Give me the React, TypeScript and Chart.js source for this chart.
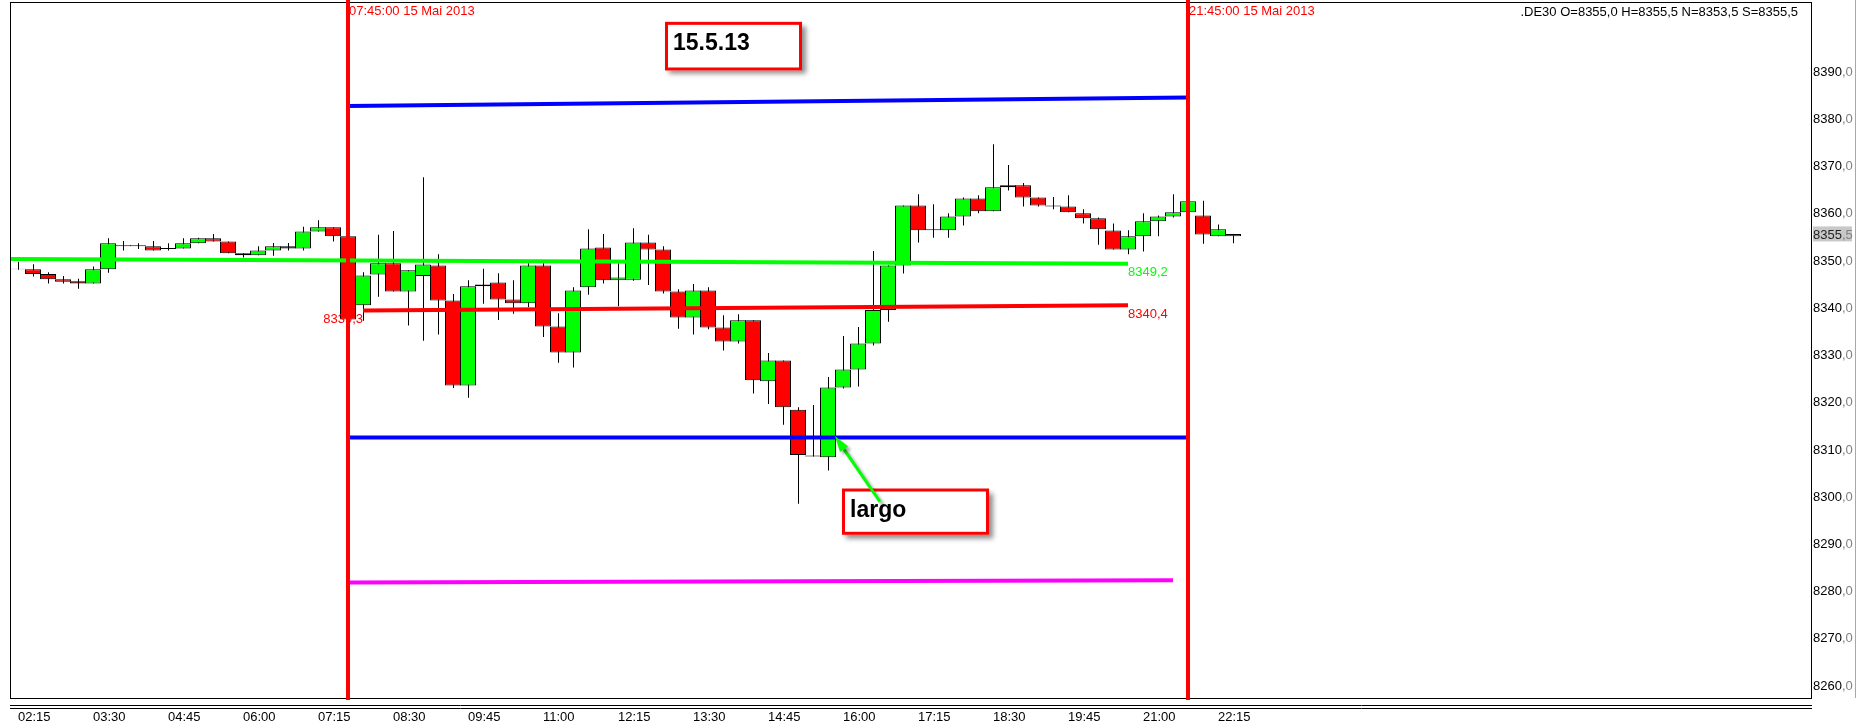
import React, { useEffect, useRef } from 'react';
import { Chart, registerables } from 'chart.js';

Chart.register(...registerables);

// ---- categories (15-minute bars, 15 Mai 2013) ----
const times = [
  '02:15', '02:30', '02:45', '03:00', '03:15', '03:30', '03:45', '04:00', '04:15', '04:30',
  '04:45', '05:00', '05:15', '05:30', '05:45', '06:00', '06:15', '06:30', '06:45', '07:00',
  '07:15', '07:30', '07:45', '08:00', '08:15', '08:30', '08:45', '09:00', '09:15', '09:30',
  '09:45', '10:00', '10:15', '10:30', '10:45', '11:00', '11:15', '11:30', '11:45', '12:00',
  '12:15', '12:30', '12:45', '13:00', '13:15', '13:30', '13:45', '14:00', '14:15', '14:30',
  '14:45', '15:00', '15:15', '15:30', '15:45', '16:00', '16:15', '16:30', '16:45', '17:00',
  '17:15', '17:30', '17:45', '18:00', '18:15', '18:30', '18:45', '19:00', '19:15', '19:30',
  '19:45', '20:00', '20:15', '20:30', '20:45', '21:00', '21:15', '21:30', '21:45', '22:00',
  '22:15', '22:30',
];

// ---- OHLC series ----
const opens = [
  8348.1, 8348.0, 8347.0, 8345.9, 8345.5, 8345.0, 8348.0, 8352.9, 8352.9, 8352.9,
  8352.3, 8352.4, 8353.5, 8354.6, 8353.9, 8351.4, 8351.0, 8352.0, 8352.9, 8352.4,
  8356.0, 8356.9, 8355.0, 8340.4, 8346.9, 8349.3, 8343.3, 8346.6, 8348.8, 8341.4,
  8323.4, 8344.4, 8345.2, 8341.6, 8340.8, 8348.8, 8335.9, 8330.4, 8344.2, 8352.6,
  8345.7, 8345.8, 8353.7, 8352.2, 8343.3, 8337.8, 8343.5, 8335.7, 8332.7, 8337.2,
  8324.3, 8328.7, 8318.3, 8308.6, 8308.2, 8323.0, 8326.8, 8332.3, 8339.4, 8348.8,
  8361.5, 8356.3, 8356.3, 8359.2, 8363.0, 8360.3, 8365.4, 8365.8, 8363.2, 8361.5,
  8361.3, 8359.9, 8358.8, 8356.2, 8352.2, 8355.0, 8358.2, 8359.2, 8360.1, 8359.4,
  8355.0, 8355.0,
];
const highs = [
  8349.6, 8349.1, 8347.4, 8346.6, 8346.0, 8348.6, 8354.6, 8354.0, 8353.5, 8354.0,
  8353.5, 8354.6, 8354.7, 8355.5, 8353.9, 8351.4, 8352.9, 8353.6, 8353.6, 8357.0,
  8358.4, 8356.9, 8355.0, 8347.4, 8355.3, 8356.1, 8347.8, 8367.5, 8351.2, 8342.8,
  8345.7, 8348.1, 8347.2, 8345.7, 8349.3, 8349.3, 8338.7, 8344.2, 8356.5, 8355.5,
  8349.3, 8356.7, 8355.3, 8352.9, 8343.8, 8344.9, 8344.2, 8338.3, 8338.5, 8337.2,
  8330.3, 8328.7, 8318.8, 8319.3, 8325.2, 8333.9, 8335.8, 8351.9, 8348.8, 8361.5,
  8363.9, 8361.8, 8359.9, 8363.2, 8363.7, 8374.5, 8370.1, 8366.3, 8363.2, 8363.3,
  8363.7, 8360.7, 8359.0, 8357.7, 8356.3, 8359.9, 8359.4, 8363.9, 8362.4, 8362.5,
  8357.5, 8355.5,
];
const lows = [
  8347.9, 8346.5, 8345.0, 8345.0, 8343.9, 8345.0, 8347.3, 8352.0, 8352.3, 8352.0,
  8352.0, 8352.4, 8353.5, 8353.9, 8351.4, 8350.5, 8351.0, 8350.9, 8352.0, 8352.0,
  8356.0, 8353.9, 8337.3, 8337.1, 8342.2, 8343.3, 8336.1, 8332.9, 8334.2, 8322.9,
  8320.8, 8340.7, 8337.3, 8338.6, 8340.0, 8333.7, 8328.2, 8327.2, 8342.6, 8345.0,
  8340.2, 8345.6, 8344.7, 8342.9, 8335.4, 8334.2, 8335.3, 8330.8, 8332.3, 8321.7,
  8319.5, 8315.1, 8298.4, 8308.4, 8305.4, 8322.8, 8323.2, 8331.9, 8336.9, 8347.1,
  8353.7, 8354.7, 8354.7, 8357.3, 8359.9, 8360.3, 8364.7, 8361.3, 8361.3, 8360.7,
  8360.1, 8357.7, 8353.2, 8352.2, 8351.2, 8351.8, 8355.0, 8359.0, 8360.1, 8353.4,
  8355.0, 8353.5,
];
const closes = [
  8348.0, 8347.0, 8345.9, 8345.4, 8345.0, 8348.0, 8353.5, 8353.1, 8353.1, 8352.0,
  8352.5, 8353.5, 8354.6, 8353.9, 8351.4, 8351.0, 8352.0, 8352.9, 8352.4, 8356.0,
  8356.9, 8355.0, 8337.4, 8346.7, 8349.3, 8343.3, 8347.8, 8349.0, 8341.4, 8323.4,
  8344.4, 8344.8, 8341.6, 8340.8, 8348.8, 8335.9, 8330.4, 8343.5, 8352.4, 8345.7,
  8346.3, 8353.7, 8352.2, 8343.3, 8337.8, 8343.5, 8335.7, 8332.7, 8337.2, 8324.5,
  8328.7, 8318.8, 8308.7, 8308.4, 8323.0, 8326.8, 8332.3, 8339.4, 8348.8, 8361.5,
  8356.3, 8356.5, 8359.2, 8363.0, 8360.3, 8365.4, 8365.8, 8363.2, 8361.5, 8361.3,
  8360.1, 8358.8, 8356.5, 8352.2, 8355.0, 8358.2, 8359.2, 8360.1, 8362.4, 8355.4,
  8356.5, 8355.5,
];

// ---- tick labels ----
const xTickLabels = ['02:15', '03:30', '04:45', '06:00', '07:15', '08:30', '09:45', '11:00', '12:15',
  '13:30', '14:45', '16:00', '17:15', '18:30', '19:45', '21:00', '22:15'];
const yTickValues = [8260, 8270, 8280, 8290, 8300, 8310, 8320, 8330, 8340, 8350, 8360, 8370, 8380, 8390];

// ---- session markers ----
const sessionTimes = ['07:45', '21:45'];
const sessionLabels = ['07:45:00 15 Mai 2013', '21:45:00 15 Mai 2013'];

// ---- level lines ----
const greenLineTimes = ['02:00', '20:45'];
const greenLineValues = [8350.2, 8349.2];
const redLineTimes = ['08:00', '20:45'];
const redLineValues = [8339.3, 8340.4];
const blueUpperTimes = ['07:45', '21:45'];
const blueUpperValues = [8382.6, 8384.4];
const blueLowerTimes = ['07:45', '21:45'];
const blueLowerValues = [8312.4, 8312.4];
const magentaTimes = ['07:45', '21:30'];
const magentaValues = [8281.7, 8282.2];

// ---- texts ----
const headerText = '.DE30 O=8355,0 H=8355,5 N=8353,5 S=8355,5';
const noteTexts = ['15.5.13', 'largo'];
const noteFrom = ['13:02', '15:59'];
const noteTo = ['15:19', '18:26'];
const noteTop = [8400.4, 8301.6];
const noteBottom = [8390.1, 8291.8];
const arrowFrom = { t: '16:37', v: 8298.8 };
const arrowTo = { t: '15:52', v: 8312.7 };

const toMin = (s: string) => {
  const [h, m] = s.split(':').map(Number);
  return h * 60 + m;
};
const pts = (ts: string[], vs: number[]) => ts.map((t, i) => ({ x: toMin(t), y: vs[i] }));
const fmt = (v: number) => {
  const s = v.toFixed(1).split('.');
  return [s[0], ',' + s[1]];
};

const FONT = '13px "Liberation Sans", Arial, sans-serif';
const BOLD = 'bold 23px "Liberation Sans", Arial, sans-serif';

const X_MIN = 127;
const X_MAX = 1928;

const overlayPlugin = {
  id: 'overlay',
  afterDatasetsDraw(chart: any) {
    const { ctx, chartArea: ca, scales } = chart;
    const xs = scales.x;
    const ys = scales.y;
    const px = (t: string) => xs.getPixelForValue(toMin(t));
    const py = (v: number) => ys.getPixelForValue(v);
    ctx.save();
    ctx.font = FONT;
    ctx.textBaseline = 'alphabetic';

    // level labels
    ctx.textAlign = 'left';
    ctx.fillStyle = '#00ff00';
    ctx.fillText(fmt(greenLineValues[1]).join(''), px(greenLineTimes[1]), py(greenLineValues[1]) + 12.5);
    ctx.fillStyle = '#ff0000';
    ctx.fillText(fmt(redLineValues[1]).join(''), px(redLineTimes[1]), py(redLineValues[1]) + 12.5);
    ctx.textAlign = 'right';
    ctx.fillText(fmt(redLineValues[0]).join(''), px(redLineTimes[0]), py(redLineValues[0]) + 12.5);

    // session labels
    ctx.textAlign = 'left';
    ctx.fillStyle = '#ff0000';
    sessionTimes.forEach((t, i) => ctx.fillText(sessionLabels[i], px(t) + 1, 15));

    // plot border
    ctx.strokeStyle = '#000';
    ctx.lineWidth = 1;
    ctx.strokeRect(ca.left + 0.5, ca.top + 0.5, ca.right - ca.left, ca.bottom - ca.top);

    // session vertical lines
    ctx.strokeStyle = '#ff0000';
    ctx.lineWidth = 4;
    sessionTimes.forEach((t) => {
      const x = px(t);
      ctx.beginPath();
      ctx.moveTo(x, 0);
      ctx.lineTo(x, ca.bottom + 2);
      ctx.stroke();
    });

    // x axis double line
    ctx.strokeStyle = '#000';
    ctx.lineWidth = 1;
    [ca.bottom + 7.5, ca.bottom + 10.5].forEach((y) => {
      ctx.beginPath();
      ctx.moveTo(ca.left, y);
      ctx.lineTo(ca.right + 1, y);
      ctx.stroke();
    });

    // x labels
    ctx.fillStyle = '#000';
    ctx.textAlign = 'left';
    xTickLabels.forEach((l) => ctx.fillText(l, px(l), ca.bottom + 23));

    // y labels
    const yLabelX = ca.right + 2;
    yTickValues.forEach((v) => {
      const [a, b] = fmt(v);
      const y = py(v) + 4.7;
      ctx.fillStyle = '#000';
      ctx.fillText(a, yLabelX, y);
      ctx.fillStyle = '#808080';
      ctx.fillText(b, yLabelX + ctx.measureText(a).width, y);
    });

    // last price box
    const last = closes[closes.length - 1];
    const ly = py(last);
    ctx.fillStyle = '#c8c8c8';
    ctx.fillRect(yLabelX, ly - 7.5, 39, 15);
    const [la, lb] = fmt(last);
    ctx.fillStyle = '#222';
    ctx.fillText(la, yLabelX, ly + 4.7);
    ctx.fillStyle = '#808080';
    ctx.fillText(lb, yLabelX + ctx.measureText(la).width, ly + 4.7);

    // header
    ctx.fillStyle = '#000';
    ctx.textAlign = 'right';
    ctx.fillText(headerText, ca.right - 13, 16);

    // right panel edge
    ctx.strokeStyle = '#a8a8a8';
    ctx.beginPath();
    ctx.moveTo(chart.width - 1.5, 0);
    ctx.lineTo(chart.width - 1.5, ca.bottom);
    ctx.stroke();

    // note boxes
    noteTexts.forEach((txt, i) => {
      const x0 = px(noteFrom[i]);
      const x1 = px(noteTo[i]);
      const y0 = py(noteTop[i]);
      const y1 = py(noteBottom[i]);
      ctx.save();
      ctx.shadowColor = 'rgba(0,0,0,0.45)';
      ctx.shadowBlur = 5;
      ctx.shadowOffsetX = 4;
      ctx.shadowOffsetY = 4;
      ctx.fillStyle = '#fff';
      ctx.fillRect(x0, y0, x1 - x0, y1 - y0);
      ctx.restore();
      ctx.strokeStyle = '#ff0000';
      ctx.lineWidth = 3;
      ctx.strokeRect(x0 + 1.5, y0 + 1.5, x1 - x0 - 3, y1 - y0 - 3);
      ctx.fillStyle = '#000';
      ctx.font = BOLD;
      ctx.textAlign = 'left';
      ctx.fillText(txt, x0 + 8, y0 + 28);
    });

    // arrow
    const ax0 = px(arrowFrom.t), ay0 = py(arrowFrom.v);
    const ax1 = px(arrowTo.t), ay1 = py(arrowTo.v);
    const ang = Math.atan2(ay1 - ay0, ax1 - ax0);
    const hl = 16, hw = 5;
    const bx = ax1 - hl * Math.cos(ang), by = ay1 - hl * Math.sin(ang);
    ctx.save();
    ctx.shadowColor = 'rgba(0,0,0,0.35)';
    ctx.shadowBlur = 3;
    ctx.shadowOffsetX = 3;
    ctx.shadowOffsetY = 3;
    ctx.strokeStyle = '#00ff00';
    ctx.lineWidth = 3;
    ctx.beginPath();
    ctx.moveTo(ax0, ay0);
    ctx.lineTo(bx, by);
    ctx.stroke();
    ctx.fillStyle = '#00ff00';
    ctx.beginPath();
    ctx.moveTo(ax1, ay1);
    ctx.lineTo(bx + hw * Math.sin(ang), by - hw * Math.cos(ang));
    ctx.lineTo(bx - hw * Math.sin(ang), by + hw * Math.cos(ang));
    ctx.closePath();
    ctx.fill();
    ctx.restore();

    ctx.restore();
  },
};

export default function App() {
  const canvasRef = useRef<HTMLCanvasElement | null>(null);

  useEffect(() => {
    const canvas = canvasRef.current;
    if (!canvas) return;
    const lineDs = (label: string, data: any[], color: string) => ({
      type: 'line' as const,
      label,
      data,
      borderColor: color,
      backgroundColor: color,
      borderWidth: 4,
      pointRadius: 0,
      tension: 0,
      order: 0,
    });
    const chart = new Chart(canvas, {
      type: 'bar',
      data: {
        datasets: [
          lineDs('green', pts(greenLineTimes, greenLineValues), '#00ff00'),
          lineDs('red', pts(redLineTimes, redLineValues), '#ff0000'),
          lineDs('blueUpper', pts(blueUpperTimes, blueUpperValues), '#0000ff'),
          lineDs('blueLower', pts(blueLowerTimes, blueLowerValues), '#0000ff'),
          lineDs('magenta', pts(magentaTimes, magentaValues), '#ff00ff'),
          {
            type: 'bar',
            label: 'bodies',
            data: times.map((t, i) => ({ x: toMin(t), y: [opens[i], closes[i]] })),
            backgroundColor: times.map((_, i) => (closes[i] >= opens[i] ? '#00ff00' : '#ff0000')),
            borderColor: '#000',
            borderWidth: 1,
            borderSkipped: false,
            barThickness: 16,
            grouped: false,
            inflateAmount: 0,
            order: 1,
          } as any,
          {
            type: 'bar',
            label: 'wicks',
            xAxisID: 'xw',
            data: times.map((t, i) => ({ x: toMin(t), y: [lows[i], highs[i]] })),
            backgroundColor: '#000',
            borderWidth: 0,
            barThickness: 1,
            grouped: false,
            inflateAmount: 0,
            order: 2,
          } as any,
        ],
      },
      options: {
        animation: false,
        responsive: false,
        devicePixelRatio: 1,
        events: [],
        layout: { padding: { left: 10, top: 2, right: 46, bottom: 28 } },
        plugins: { legend: { display: false }, tooltip: { enabled: false }, title: { display: false } },
        scales: {
          x: { type: 'linear', min: X_MIN, max: X_MAX, offset: false, display: false },
          // wick scale: same range, half a pixel to the left, so 1px wicks fall on whole pixels
          xw: { type: 'linear', axis: 'x', min: X_MIN - 0.5, max: X_MAX - 0.5, offset: false, display: false },
          y: { type: 'linear', min: 8257.25, max: 8404.6, beginAtZero: false, display: false },
        },
      },
      plugins: [overlayPlugin],
    } as any);
    return () => chart.destroy();
  }, []);

  return (
    <div style={{ position: 'fixed', left: 0, top: 0, width: 1857, height: 726, background: '#fff' }}>
      <canvas ref={canvasRef} width={1857} height={726} style={{ display: 'block' }} />
    </div>
  );
}
